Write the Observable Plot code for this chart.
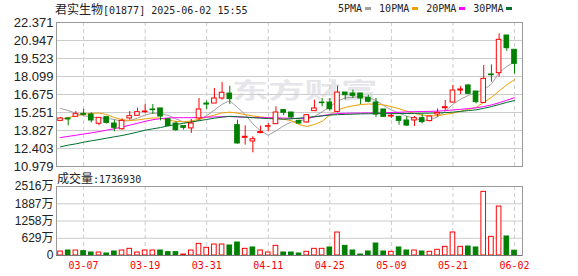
<!DOCTYPE html>
<html><head><meta charset="utf-8">
<script src="https://cdn.jsdelivr.net/npm/d3@7"></script>
<script src="https://cdn.jsdelivr.net/npm/@observablehq/plot@0.6"></script>
<style>
body{margin:0;background:#fff;}
#wrap{position:relative;width:578px;height:276px;overflow:hidden;}
.abs{position:absolute;white-space:nowrap;}
.cjk{font-family:"Noto Sans CJK SC",sans-serif;font-size:12px;}
.mono{font-family:"DejaVu Sans Mono",monospace;font-size:10px;}
#title{left:55px;top:2px;line-height:14px;color:#222;}
#legend{left:338px;top:2px;line-height:14px;color:#222;}
.sw{display:inline-block;width:6px;height:3px;vertical-align:middle;margin:0 8px 0 3px;position:relative;top:-1px;}
#voltitle{left:57px;top:171px;line-height:14px;color:#222;}
#wm{left:232px;top:72px;font-family:"Noto Sans CJK SC",sans-serif;font-weight:bold;font-size:22px;color:#e6e6ea;transform:scaleX(1.65);transform-origin:left top;}
#price{position:absolute;left:0;top:0;}
#vol{position:absolute;left:0;top:168px;}
</style></head>
<body><div id="wrap">
<div id="wm" class="abs">东方财富</div>
<div id="price"></div>
<div id="vol"></div>
<div id="title" class="abs"><span class="cjk">君实生物</span><span class="mono">[01877] 2025-06-02 15:55</span></div>
<div id="legend" class="abs mono"></div>
<div id="voltitle" class="abs"><span class="cjk">成交量</span><span class="mono">:1736930</span></div>
</div>
<script>
const dates = ["03-04","03-05","03-06","03-07","03-10","03-11","03-12","03-13","03-14","03-17","03-18","03-19","03-20","03-21","03-24","03-25","03-26","03-27","03-28","03-31",
"04-01","04-02","04-03","04-07","04-08","04-09","04-10","04-11","04-14","04-15","04-16","04-17","04-22","04-23","04-24","04-25","04-28","04-29","04-30",
"05-02","05-06","05-07","05-08","05-09","05-12","05-13","05-14","05-15","05-16","05-19","05-20","05-21","05-22","05-23","05-26","05-27","05-28","05-29","05-30","06-02"];
const open  = [14.59,14.78,14.91,15.14,15.09,14.36,14.88,14.38,13.93,14.78,14.99,15.28,15.49,15.57,14.72,14.38,14.17,13.99,14.78,15.96,
15.96,16.36,16.75,14.25,13.25,12.96,13.62,14.12,14.33,15.44,15.25,14.59,14.46,15.36,16.04,16.04,15.30,16.83,16.75,
16.75,16.41,16.04,15.49,14.93,14.91,14.62,14.62,14.80,14.57,15.09,15.59,16.04,16.99,17.39,16.91,16.01,18.26,18.36,21.34,20.21];
const high  = [14.85,14.80,15.33,15.51,15.22,14.83,14.96,14.64,14.75,15.33,15.59,15.91,15.88,15.57,14.72,14.51,14.17,14.70,16.36,16.15,
17.15,17.62,17.33,14.64,14.20,13.33,14.17,14.38,15.70,15.44,15.25,14.64,15.09,16.23,16.36,16.36,17.33,16.83,17.02,
16.75,16.62,16.36,15.49,15.22,14.91,14.93,14.93,15.09,14.99,15.54,16.20,17.39,17.31,17.44,16.91,18.97,19.02,21.47,21.34,20.21];
const low   = [14.54,14.20,14.91,14.99,14.43,14.20,14.33,13.72,13.85,14.64,14.99,15.17,15.09,14.59,14.12,13.77,13.85,13.59,14.64,15.49,
15.96,16.23,15.88,12.75,12.67,12.06,13.59,13.72,14.33,14.99,14.70,14.33,14.43,15.36,15.70,15.36,15.22,16.23,16.36,
15.88,16.02,14.86,14.86,14.78,14.25,14.14,14.14,14.35,14.51,14.88,15.41,16.04,16.67,16.67,15.94,15.99,17.65,18.05,20.10,18.31];
const close = [14.78,14.70,15.12,15.07,14.62,14.83,14.43,14.04,14.59,14.96,15.28,15.33,15.44,14.93,14.17,13.85,14.04,14.38,15.49,15.88,
16.36,16.81,16.31,12.80,13.33,13.14,13.70,14.17,15.25,15.23,14.86,14.38,15.04,15.57,15.99,15.51,16.83,16.62,16.57,
16.36,16.10,15.09,14.91,14.99,14.59,14.22,14.80,14.49,14.93,15.22,15.67,16.99,17.07,16.73,16.07,17.91,18.20,21.00,20.34,19.10];
const volume = [146,182,182,158,109,109,73,146,182,243,109,182,182,182,122,122,36,182,425,280,
400,400,365,474,243,292,182,109,352,109,109,73,134,243,243,292,838,352,182,
36,146,437,146,134,292,182,182,146,134,207,316,838,316,328,292,2320,680,1786,693,174];
const ma5  = [15.58,15.40,15.20,15.00,14.90,14.82,14.78,14.70,14.55,14.62,14.80,15.05,15.20,15.18,15.02,14.75,14.50,14.45,14.65,15.00,
15.45,15.90,16.18,15.65,15.10,14.35,13.80,13.45,13.80,14.20,14.50,14.60,14.70,14.95,15.30,15.70,16.15,16.40,16.45,
16.50,16.45,16.20,15.80,15.45,15.20,14.95,14.80,14.62,14.68,14.90,15.35,15.90,16.30,16.60,16.85,17.05,17.50,18.40,18.90,19.25];
const ma10 = [14.70,14.85,15.00,15.10,15.18,15.20,15.10,14.85,14.68,14.62,14.66,14.75,14.82,14.80,14.65,14.55,14.52,14.58,14.72,14.88,
15.05,15.22,15.28,15.20,15.08,14.98,14.90,14.84,14.80,14.72,14.60,14.30,14.15,14.30,14.55,15.05,15.45,15.65,15.78,
15.88,15.92,15.90,15.85,15.72,15.55,15.35,15.18,15.05,14.98,15.00,15.10,15.20,15.35,15.50,15.65,16.05,16.45,16.95,17.45,17.85];
const ma20 = [13.27,13.36,13.45,13.55,13.64,13.74,13.85,13.97,14.10,14.25,14.40,14.55,14.68,14.76,14.82,14.84,14.84,14.84,14.86,14.88,
14.90,14.92,14.93,14.90,14.88,14.86,14.85,14.84,14.83,14.81,14.79,14.78,14.80,14.90,15.00,15.10,15.16,15.19,15.20,
15.21,15.22,15.22,15.23,15.25,15.27,15.30,15.32,15.33,15.34,15.36,15.40,15.45,15.50,15.56,15.62,15.72,15.85,16.02,16.22,16.42];
const ma30 = [12.53,12.67,12.77,12.90,13.01,13.11,13.22,13.33,13.43,13.56,13.70,13.85,13.96,14.06,14.20,14.30,14.40,14.50,14.60,14.70,
14.80,14.88,14.95,14.92,14.88,14.84,14.80,14.77,14.75,14.72,14.75,14.80,14.86,14.92,14.98,15.05,15.08,15.10,15.12,
15.14,15.15,15.16,15.16,15.16,15.17,15.17,15.18,15.19,15.20,15.22,15.24,15.28,15.34,15.40,15.46,15.58,15.72,15.88,16.05,16.20];
const priceTicks = [10.979,12.403,13.827,15.251,16.675,18.099,19.523,20.947,22.371];
const volumeTicks = [0,629,1258,1887,2516];
const xTickLabels = ["03-07","03-19","03-31","04-11","04-25","05-09","05-21","06-02"];
const maNames = ["5PMA","10PMA","20PMA","30PMA"];
const maColors = ["#a0a0a0","#f0a000","#ff00ff","#007030"];
const maSeries = [ma5, ma10, ma20, ma30];

const RED = "#ff0000", GREEN = "#008000";
const bars = dates.map((d, i) => ({
  date: d, open: open[i], high: high[i], low: low[i], close: close[i], volume: volume[i],
  up: close[i] >= open[i],
  volUp: i === 0 ? close[i] >= open[i] : close[i] >= close[i - 1]
}));
const maData = maSeries.flatMap((s, k) => s.map((v, i) => ({date: dates[i], value: v, name: maNames[k]})));

// legend
const leg = document.getElementById("legend");
maNames.forEach((n, k) => {
  const t = document.createElement("span"); t.textContent = n; leg.appendChild(t);
  const s = document.createElement("span"); s.className = "sw"; s.style.background = maColors[k]; leg.appendChild(s);
});

const xOpts = {type: "band", domain: dates, range: [56.15, 517.85], paddingInner: 0.4, paddingOuter: 0.2, round: false, axis: null, label: null};
const baseStyle = {fontFamily: "'Liberation Sans', Arial, 'Noto Sans CJK SC', sans-serif", background: "transparent", overflow: "visible", color: "#222"};

const price = Plot.plot({
  width: 578, height: 168, marginLeft: 56, marginRight: 56, marginTop: 22, marginBottom: 2,
  style: {...baseStyle, fontSize: "13px"},
  x: xOpts,
  y: {domain: [priceTicks[0], priceTicks[priceTicks.length - 1]], label: null},
  color: {domain: maNames, range: maColors},
  marks: [
    Plot.ruleY(priceTicks, {stroke: "#cccccc"}),
    Plot.ruleX(xTickLabels, {x: d => d, stroke: "#cccccc", strokeDasharray: "4,3"}),
    Plot.frame({stroke: "#999999"}),
    Plot.axisY({ticks: priceTicks, tickSize: 0, tickPadding: 3, tickFormat: d3.format(".3f"), fill: "#222", label: null}),
    Plot.line(maData, {x: "date", y: "value", z: "name", stroke: "name", strokeWidth: 1}),
    Plot.ruleX(bars, {x: "date", y1: "low", y2: "high", stroke: d => d.up ? RED : GREEN}),
    Plot.barY(bars, {x: "date", y1: "open", y2: "close", fill: d => d.up ? "#ffffff" : GREEN, stroke: d => d.up ? RED : GREEN, strokeWidth: 1})
  ]
});
document.getElementById("price").appendChild(price);

const vol = Plot.plot({
  width: 578, height: 108, marginLeft: 56, marginRight: 56, marginTop: 18, marginBottom: 21,
  style: {...baseStyle, fontSize: "12px"},
  x: xOpts,
  y: {domain: [volumeTicks[0], volumeTicks[volumeTicks.length - 1]], label: null},
  marks: [
    Plot.ruleY(volumeTicks.slice(1), {stroke: "#cccccc"}),
    Plot.ruleX(xTickLabels, {x: d => d, stroke: "#cccccc", strokeDasharray: "4,3"}),
    Plot.frame({stroke: "#999999"}),
    Plot.barY(bars, {x: "date", y: "volume", fill: d => d.volUp ? "#ffffff" : GREEN, stroke: d => d.volUp ? RED : GREEN, strokeWidth: 1}),
    Plot.ruleY([0], {stroke: "#777777"}),
    Plot.axisY({ticks: volumeTicks, tickSize: 0, tickPadding: 3, tickFormat: d => d === 0 ? "0" : d + "万", fill: "#222", label: null}),
    Plot.axisX({ticks: xTickLabels, tickSize: 0, tickPadding: 6, fill: RED, fontFamily: "'DejaVu Sans Mono', monospace", fontSize: 10, label: null})
  ]
});
document.getElementById("vol").appendChild(vol);
</script>
</body></html>
